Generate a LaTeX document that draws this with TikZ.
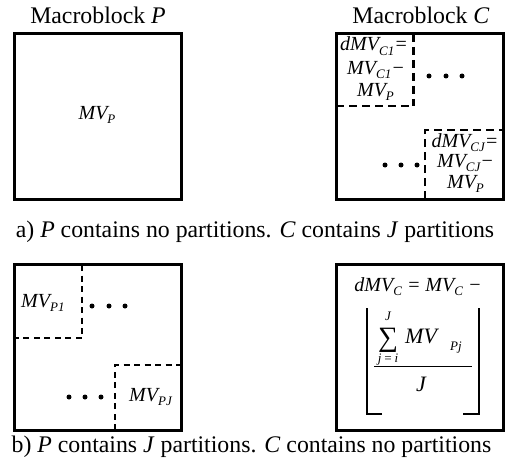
\documentclass[tikz,border=0pt]{standalone}
\usepackage{fontspec}
\setmainfont{Liberation Serif}
\newcommand\myfbig{\fontsize{23.8}{28}\selectfont}
\newcommand\myfmid{\fontsize{20}{24}\selectfont}
\newcommand\myfsml{\fontsize{13}{15}\selectfont}
\newcommand\mysub[1]{\raisebox{-0.22em}{\myfsml\itshape #1}}
\begin{document}
\begin{tikzpicture}[x=1pt,y=-1pt,
  mblock/.style={draw, line width=2.6pt, minimum width=167.4pt, minimum height=166.4pt, inner sep=0pt},
  dashA/.style={line width=2.5pt, dash pattern=on 8pt off 5pt},
  dashB/.style={line width=1.4pt, dash pattern=on 6pt off 4.5pt},
  pdot/.style={circle, fill, inner sep=0pt, minimum size=5pt},
  captxt/.style={font=\myfbig, inner sep=0pt, anchor=base},
  mvt/.style={font=\myfmid\itshape, inner sep=0pt, anchor=base},
  smt/.style={font=\myfsml\itshape, inner sep=0pt, anchor=base}]
\useasboundingbox (0,0) rectangle (508,468);
% boxes
\node[mblock] (P) at (98,116.5) {};
\node[mblock] (C) at (420,116.5) {};
\node[mblock] (P2) at (98,347.5) {};
\node[mblock] (C2) at (420,347.5) {};
% titles and captions
\node[captxt] (tP) at (98,23.5) {Macroblock \textit{P}};
\node[captxt] (tC) at (421,23.5) {Macroblock \textit{C}};
\node[captxt] (ca) at (255,237) {a) \textit{P} contains no partitions. \textit{C} contains \textit{J} partitions};
\node[captxt] (cb) at (251.5,452) {b) \textit{P} contains \textit{J} partitions. \textit{C} contains no partitions};
% box P
\node[mvt] (mvp) at (97,119) {MV\mysub{P}};
% box C partitions
\draw[dashA] (413.5,34) -- (413.5,106);
\draw[dashA] (336,106) -- (410,106);
\draw[dashA] (425,199) -- (425,130) -- (503,130);
\node[mvt] (c1a) at (374,51) {dMV\mysub{C1}=};
\node[mvt] (c1b) at (376,74.5) {MV\mysub{C1}−};
\node[mvt] (c1c) at (375.5,96) {MV\mysub{P}};
\node[mvt] (cja) at (465,147) {dMV\mysub{CJ}=};
\node[mvt] (cjb) at (465.5,167) {MV\mysub{CJ}−};
\node[mvt] (cjc) at (465.5,188.5) {MV\mysub{P}};
\node[pdot] (d1) at (429,76) {};
\node[pdot] (d2) at (446,76) {};
\node[pdot] (d3) at (462,76) {};
\node[pdot] (d4) at (385,165) {};
\node[pdot] (d5) at (401,165) {};
\node[pdot] (d6) at (417,165) {};
% box P2 partitions
\draw[dashB] (82,265) -- (82,338) -- (15,338);
\draw[dashB] (115,430) -- (115,365) -- (181,365);
\node[mvt, anchor=base west] (p1) at (21,307) {MV\mysub{P1}};
\node[mvt, anchor=base west] (pj) at (129,401) {MV\mysub{PJ}};
\node[pdot] (e1) at (92,306) {};
\node[pdot] (e2) at (109,306) {};
\node[pdot] (e3) at (125,306) {};
\node[pdot] (e4) at (69,397) {};
\node[pdot] (e5) at (85,397) {};
\node[pdot] (e6) at (101,397) {};
% box C2 formula
\node[mvt] (f1) at (418,291) {dMV\mysub{C} = MV\mysub{C} −};
\draw[line width=1.5pt] (382,414) -- (367,414) -- (367,308);
\draw[line width=1.5pt] (463,414) -- (479,414) -- (479,308);
\node[inner sep=0pt, anchor=base, font=\fontsize{28}{28}\selectfont] (sum) at (388,346) {∑};
\node[smt] (sup) at (388,320) {J};
\node[smt] (sdn) at (388,362.5) {j\,=\,i};
\node[font=\fontsize{22}{26}\selectfont\itshape, inner sep=0pt, anchor=base west] (mv) at (405,343) {MV};
\node[smt, anchor=base west] (pjs) at (450,350) {Pj};
\draw[line width=1pt] (374,366) -- (472,366);
\node[font=\fontsize{22}{26}\selectfont\itshape, inner sep=0pt, anchor=base] (den) at (421,391) {J};
\end{tikzpicture}
\end{document}
